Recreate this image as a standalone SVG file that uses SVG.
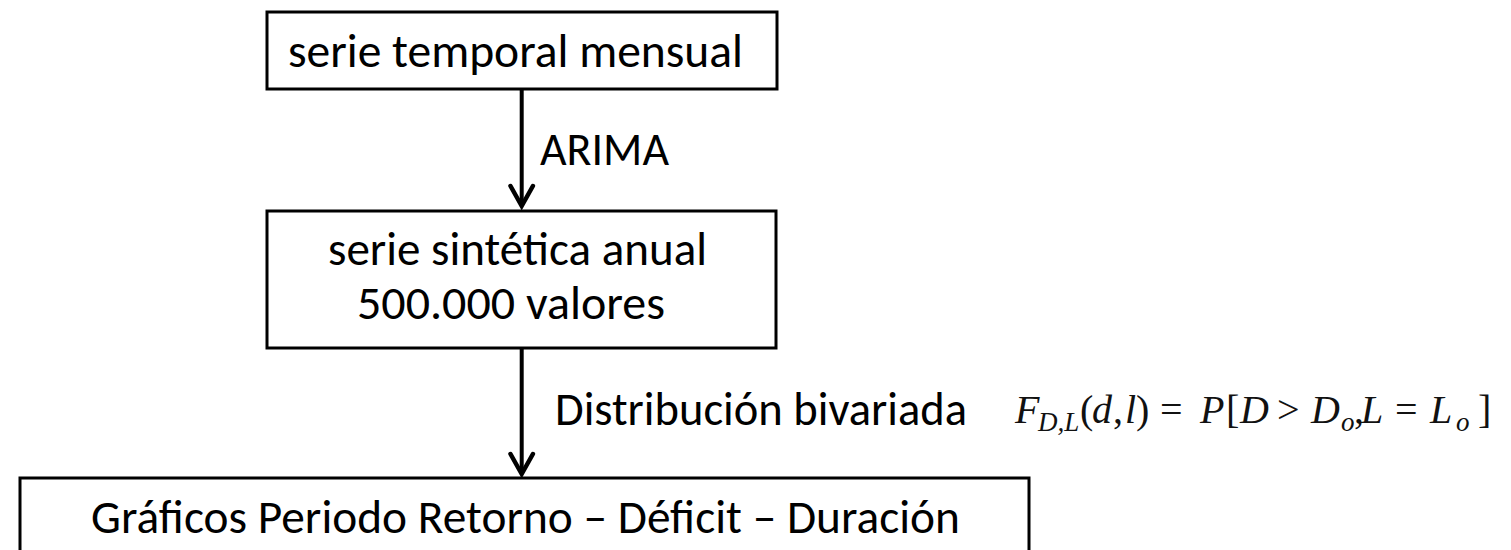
<svg xmlns="http://www.w3.org/2000/svg" width="1511" height="550" viewBox="0 0 1511 550">
<style>
.box{fill:#fff;stroke:#000;stroke-width:3}
.lbl{font-family:Carlito,Lato,"Liberation Sans",sans-serif;font-size:46.5px;fill:#000}
.edge{stroke:#000;stroke-width:4;fill:none}
.head{stroke:#000;stroke-width:4.5;fill:none;stroke-linejoin:miter;stroke-linecap:round}
.m{font-family:"Liberation Serif","DejaVu Serif",serif;font-size:40px;fill:#111}
.i{font-style:italic}
</style>
<rect width="1511" height="550" fill="#fff"/>
<g id="connectors">
  <line class="edge" x1="521.7" y1="89" x2="521.7" y2="205"/>
  <path class="head" d="M510.5,186 L521.7,206 L532.9,186"/>
  <text class="lbl" x="540" y="165" textLength="129" lengthAdjust="spacingAndGlyphs">ARIMA</text>
  <line class="edge" x1="521.7" y1="348" x2="521.7" y2="473"/>
  <path class="head" d="M510.5,454 L521.7,474 L532.9,454"/>
  <text class="lbl" x="555" y="425" textLength="412" lengthAdjust="spacingAndGlyphs">Distribución bivariada</text>
</g>
<g id="node-mensual">
  <rect class="box" x="267" y="12" width="510" height="77"/>
  <text class="lbl" x="288" y="67" textLength="455" lengthAdjust="spacingAndGlyphs">serie temporal mensual</text>
</g>
<g id="node-sintetica">
  <rect class="box" x="267" y="211" width="509" height="137"/>
  <text class="lbl" x="328" y="265" textLength="379" lengthAdjust="spacingAndGlyphs">serie sintética anual</text>
  <text class="lbl" x="357" y="319" textLength="308" lengthAdjust="spacingAndGlyphs">500.000 valores</text>
</g>
<g id="node-graficos">
  <rect class="box" x="20" y="478" width="1009" height="90"/>
  <text class="lbl" x="91" y="533" textLength="869" lengthAdjust="spacingAndGlyphs">Gráficos Periodo Retorno – Déficit – Duración</text>
</g>
<g id="formula">
  <text class="m" y="423">
    <tspan class="i" x="1015">F</tspan><tspan class="i" x="1038" y="431" font-size="27">D,L</tspan><tspan x="1080" y="423">(</tspan><tspan class="i" x="1092">d</tspan><tspan x="1113">,</tspan><tspan class="i" x="1125">l</tspan><tspan x="1136">)</tspan><tspan x="1160">=</tspan><tspan class="i" x="1200">P</tspan><tspan x="1226">[</tspan><tspan class="i" x="1240">D</tspan><tspan x="1277">&gt;</tspan><tspan class="i" x="1311">D</tspan><tspan class="i" x="1341" y="431" font-size="27">o</tspan><tspan x="1354" y="423">,</tspan><tspan class="i" x="1361">L</tspan><tspan x="1395">=</tspan><tspan class="i" x="1430">L</tspan><tspan class="i" x="1456" y="431" font-size="27">o</tspan><tspan x="1478" y="423">]</tspan>
  </text>
</g>
</svg>
